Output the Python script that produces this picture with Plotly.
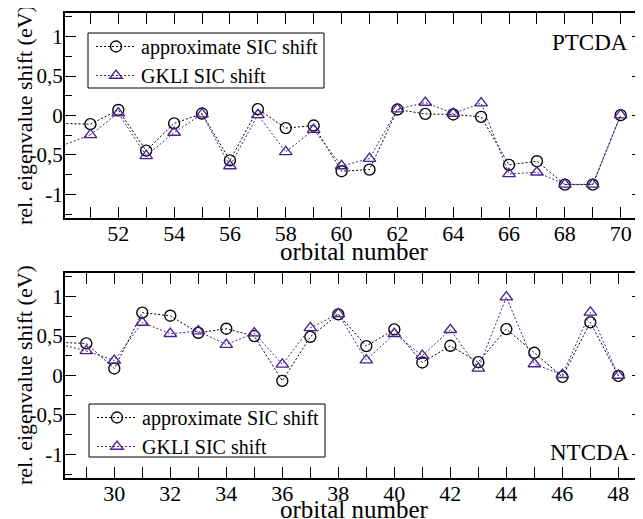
import plotly.graph_objects as go
from plotly.subplots import make_subplots

ptcda_orbitals = list(range(50, 71))
ptcda_approx = [-0.10, -0.11, 0.07, -0.445, -0.10, 0.025, -0.57, 0.08, -0.16, -0.127, -0.707,
                -0.686, 0.076, 0.02, 0.013, -0.017, -0.627, -0.58, -0.877, -0.877, 0.004]
ptcda_gkli = [-0.38, -0.245, 0.03, -0.512, -0.216, 0.017, -0.64, 0.008, -0.462, -0.18, -0.64,
              -0.546, 0.08, 0.165, 0.025, 0.157, -0.741, -0.72, -0.873, -0.873, 0.004]
ntcda_orbitals = list(range(28, 49))
ntcda_approx = [0.42, 0.407, 0.089, 0.797, 0.758, 0.542, 0.593, 0.5, -0.068, 0.491, 0.776,
                0.373, 0.585, 0.165, 0.377, 0.169, 0.589, 0.288, -0.017, 0.674, -0.005]
ntcda_gkli = [0.40, 0.313, 0.19, 0.672, 0.53, 0.562, 0.392, 0.538, 0.142, 0.604, 0.782,
              0.195, 0.53, 0.252, 0.58, 0.09, 0.994, 0.146, 0.01, 0.8, 0.0]

y_tickvals = [-1, -0.5, 0, 0.5, 1]
y_ticktext = ["-1", "-0,5", "0", "0,5", "1"]
series_names = ["approximate SIC shift", "GKLI SIC shift"]
x_title = "orbital number"
y_title = "rel. eigenvalue shift (eV)"

FONT = "Liberation Serif"
PURPLE = "#46238f"

fig = make_subplots(rows=2, cols=1, vertical_spacing=0.0)

def add_series(x, y, row, legend, name, color, symbol):
    # first orbital lies just outside the visible x range: only its connecting line shows
    fig.add_trace(go.Scatter(x=x[:2], y=y[:2], mode="lines", showlegend=False, hoverinfo="skip",
                             line=dict(color=color, width=1, dash="2px,2px")), row=row, col=1)
    fig.add_trace(go.Scatter(x=x[1:], y=y[1:], mode="lines+markers", name=name,
                             line=dict(color=color, width=1, dash="2px,2px"),
                             marker=dict(symbol=symbol, size=11, color=color,
                                         line=dict(width=1.35, color=color)),
                             legend=legend), row=row, col=1)

def add_pair(x, a, g, row, legend):
    add_series(x, a, row, legend, series_names[0], "black", "circle-open")
    add_series(x, g, row, legend, series_names[1], PURPLE, "triangle-up-open")

add_pair(ptcda_orbitals, ptcda_approx, ptcda_gkli, 1, "legend")
add_pair(ntcda_orbitals, ntcda_approx, ntcda_gkli, 2, "legend2")

# page has an 8px body margin; figure is 635x511 drawn at (8,8)
PL, PR, PT, PB = 65, 643, 13, 478  # plot area in page pixels
PW, PH = PR - PL, PB - PT
def px(p):
    return (p - PL) / PW
def py(p):
    return (PB - p) / PH

axis_common = dict(showline=True, linewidth=2, linecolor="black", mirror="allticks",
                   ticks="inside", ticklen=11, tickwidth=1, tickcolor="black",
                   showgrid=False, zeroline=False, automargin=False)
xfont = dict(family=FONT, size=22, color="black")
yfont = dict(family=FONT, size=21, color="black")
xminor = dict(ticks="inside", dtick=1, tick0=0, ticklen=11, tickcolor="black")
yminor = dict(ticks="inside", tickmode="linear", tick0=0, dtick=0.25, ticklen=7, tickcolor="black")

def axis_note(text, x, y, size, angle=0):
    return dict(text=text, xref="paper", yref="paper", x=x, y=y, xanchor="center",
                yanchor="middle", showarrow=False, textangle=angle,
                font=dict(family=FONT, size=size, color="black"))

def legend_box(x0, y0, x1, y1):
    return dict(type="rect", xref="paper", yref="paper", x0=px(x0), x1=px(x1),
                y0=py(y1), y1=py(y0), line=dict(color="black", width=1),
                fillcolor="white", layer="above")

fig.update_layout(
    width=635, height=511,
    margin=dict(l=PL - 8, r=0, t=PT - 8, b=511 - (PB - 8)),
    paper_bgcolor="white", plot_bgcolor="white",
    font=dict(family=FONT, color="black"),
    xaxis=dict(axis_common, domain=[0, 1], range=[50.09, 70.8], tickmode="linear", tick0=0, dtick=2,
               minor=xminor, anchor="y", ticklabelstandoff=-5, tickfont=xfont),
    yaxis=dict(axis_common, domain=[py(218), 1], range=[-1.3, 1.3], tickmode="array",
               tickvals=y_tickvals, ticktext=y_ticktext, minor=yminor, anchor="x",
               ticklabelstandoff=-4, tickfont=yfont),
    xaxis2=dict(axis_common, domain=[0, 1], range=[28.24, 48.88], tickmode="linear", tick0=0, dtick=2,
                minor=xminor, anchor="y2", ticklabelstandoff=-5, tickfont=xfont),
    yaxis2=dict(axis_common, domain=[0, py(273)], range=[-1.3, 1.3], tickmode="array",
                tickvals=y_tickvals, ticktext=y_ticktext, minor=yminor, anchor="x2",
                ticklabelstandoff=-4, tickfont=yfont),
    legend=dict(x=px(91), y=py(27), xanchor="left", yanchor="top",
                borderwidth=0, bgcolor="rgba(0,0,0,0)",
                font=dict(family=FONT, size=20), itemwidth=40, tracegroupgap=0),
    legend2=dict(x=px(92), y=py(398), xanchor="left", yanchor="top",
                 borderwidth=0, bgcolor="rgba(0,0,0,0)",
                 font=dict(family=FONT, size=20), itemwidth=40, tracegroupgap=0),
    shapes=[legend_box(88, 33, 324, 88), legend_box(89, 404, 325, 457)],
    annotations=[
        dict(text="PTCDA", xref="paper", yref="paper", x=px(630), y=py(42),
             xanchor="right", yanchor="middle", showarrow=False, font=dict(family=FONT, size=23)),
        dict(text="NTCDA", xref="paper", yref="paper", x=px(632), y=py(452),
             xanchor="right", yanchor="middle", showarrow=False, font=dict(family=FONT, size=23)),
        axis_note(x_title, px(354), py(252), 25),
        axis_note(x_title, px(354), py(509), 25),
        axis_note(y_title, px(24), py(115), 22, -90),
        axis_note(y_title, px(24), py(375), 22, -90),
    ],
)

fig.write_html("out.html")
